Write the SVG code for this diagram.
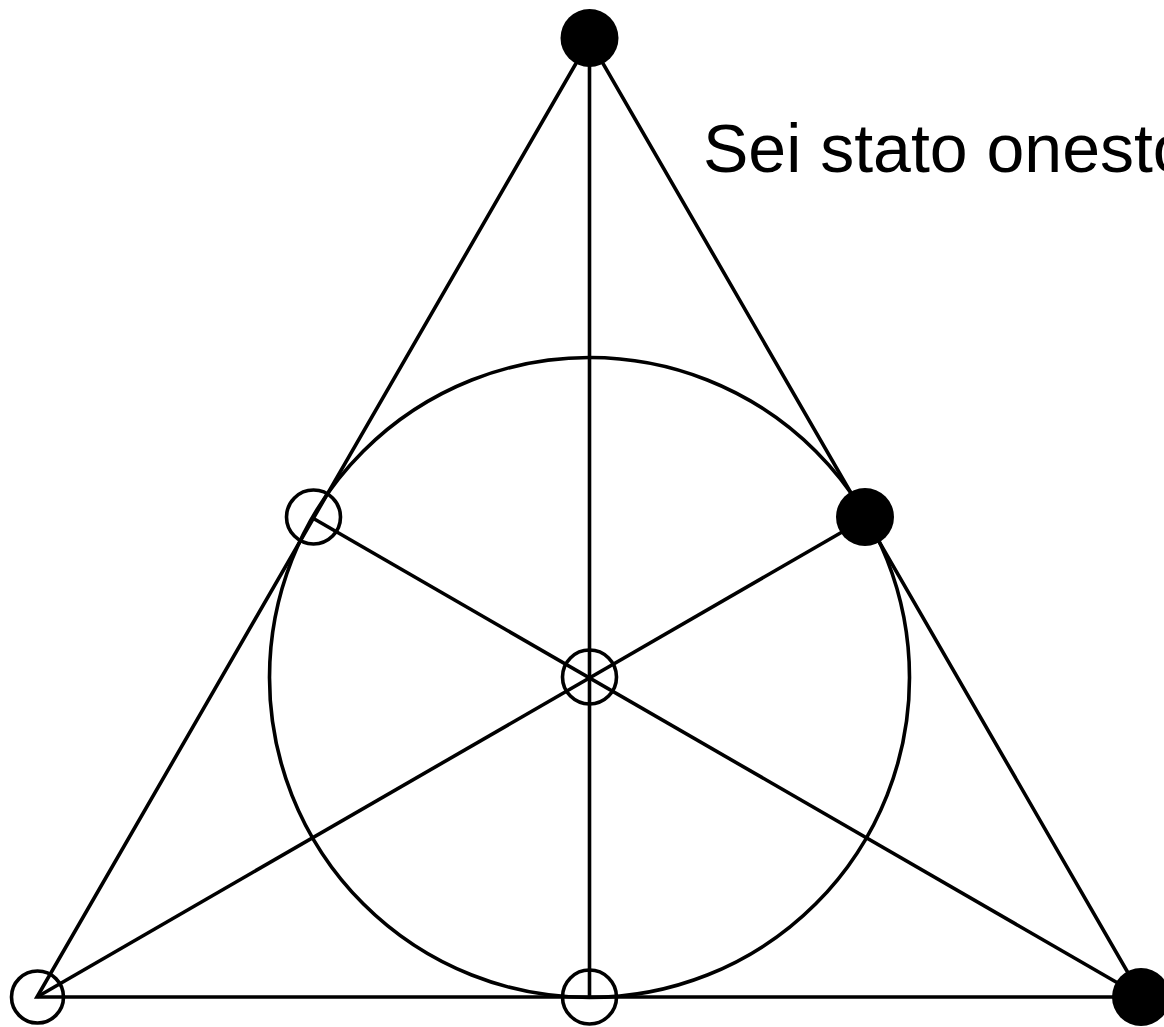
<svg xmlns="http://www.w3.org/2000/svg" width="1164" height="1027" viewBox="0 0 1164 1027">
<style>
.ln{stroke:#000;stroke-width:3.6;fill:none}
.open{stroke:#000;stroke-width:3.6;fill:none}
.full{fill:#000;stroke:none}
.lbl{font-family:"Liberation Sans",Arial,sans-serif;font-size:68px;fill:#000}
</style>
<rect width="1164" height="1027" fill="#fff"/>
<g id="connectors">
<polygon class="ln" points="589.5,40 37,997 1142,997"/>
<line class="ln" x1="589.5" y1="40" x2="589.5" y2="997"/>
<line class="ln" x1="37" y1="997" x2="865.5" y2="518.5"/>
<line class="ln" x1="1142" y1="997" x2="313.5" y2="518.5"/>
<circle id="incircle" class="ln" cx="589.5" cy="677.5" r="320"/>
</g>
<g id="node-top"><circle class="full" cx="589.5" cy="38" r="29"/></g>
<g id="node-right"><circle class="full" cx="865" cy="517" r="29"/></g>
<g id="node-bottom-right"><circle class="full" cx="1141" cy="997" r="29"/></g>
<g id="node-left"><circle class="open" cx="313.5" cy="517" r="27"/></g>
<g id="node-center"><circle class="open" cx="589.5" cy="677" r="27"/></g>
<g id="node-bottom-left"><circle class="open" cx="37.5" cy="997" r="26"/></g>
<g id="node-bottom-mid"><circle class="open" cx="589.5" cy="997" r="27"/></g>
<text class="lbl" x="703" y="172">Sei stato onesto</text>
</svg>
